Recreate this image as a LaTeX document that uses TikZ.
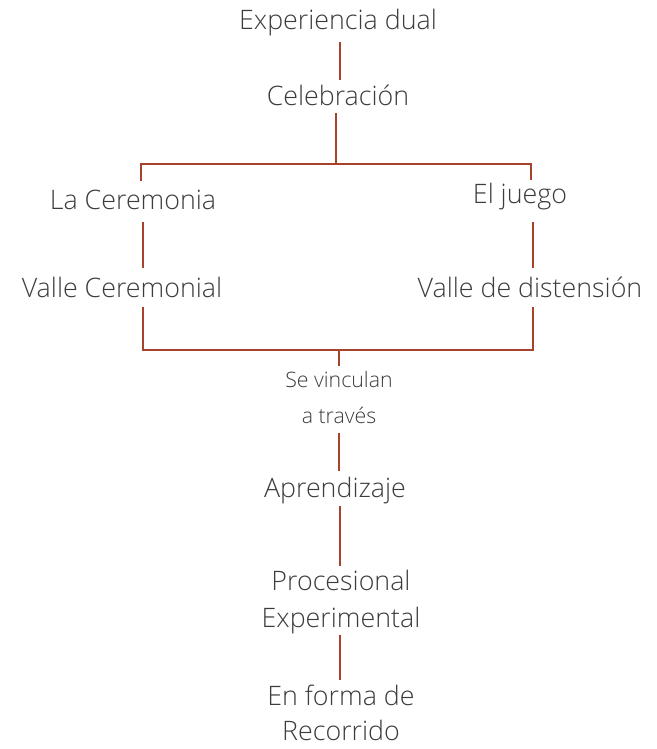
\documentclass[tikz,border=0pt]{standalone}
\usepackage{fontspec}
\setmainfont{Open Sans}[UprightFont=* Light]
\definecolor{rust}{HTML}{A8432B}
\definecolor{txt}{HTML}{3C3C3C}
\begin{document}
\begin{tikzpicture}[x=1pt,y=-1pt,
  lbl/.style={anchor=base,inner sep=0pt,text=txt,font=\fontsize{26.8}{32}\selectfont},
  small/.style={anchor=base,inner sep=0pt,text=txt,font=\fontsize{21.3}{25}\selectfont},
  link/.style={draw=rust,line width=2.8pt}]
\useasboundingbox (0,0) rectangle (656,749);
\node[lbl] (exp) at (338,30) {Experiencia dual};
\node[lbl] (cel) at (338,106) {Celebración};
\node[lbl] (cer) at (133,209) {La Ceremonia};
\node[lbl] (jue) at (520,203) {El juego};
\node[lbl] (vc) at (122,297) {Valle Ceremonial};
\node[lbl] (vd) at (530,297) {Valle de distensión};
\node[small] (se) at (339,387) {Se vinculan};
\node[small] (at) at (339,423) {a través};
\node[lbl] (apr) at (335,497) {Aprendizaje};
\node[lbl] (pro) at (341,590) {Procesional};
\node[lbl] (ex2) at (341,627) {Experimental};
\node[lbl] (en) at (341,705) {En forma de};
\node[lbl] (rec) at (341,740) {Recorrido};
\coordinate (top) at (336,164);
\coordinate (bot) at (339,350);
\draw[link] (340,42) -- (340,80);
\draw[link] (336,113) -- (top);
\draw[link] (141,181) -- (141,164) -- (531,164) -- (531,180);
\draw[link] (143,222) -- (143,268);
\draw[link] (533,222) -- (533,268);
\draw[link] (143,307) -- (143,350) -- (533,350) -- (533,307);
\draw[link] (bot) -- (339,366);
\draw[link] (339,433) -- (339,471);
\draw[link] (340,506) -- (340,566);
\draw[link] (340,635) -- (340,680);
\end{tikzpicture}
\end{document}
